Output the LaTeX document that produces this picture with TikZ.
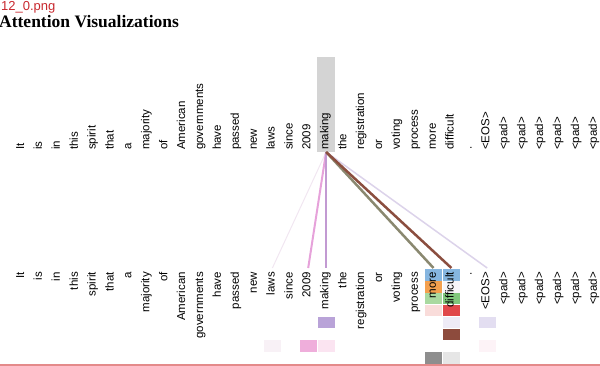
\documentclass[tikz,border=0pt]{standalone}
\usepackage{fontspec}
\setmainfont{Liberation Serif}
\setsansfont{Liberation Sans}
\usepackage{tikz}
\usetikzlibrary{positioning, backgrounds}
\definecolor{fileRed}{HTML}{C8282E}
\definecolor{edgeRed}{HTML}{E48A8A}
\definecolor{hlGray}{HTML}{D4D4D4}
\definecolor{cBlue}{HTML}{86B6E0}
\definecolor{cOrange}{HTML}{F4A04E}
\definecolor{cGreenL}{HTML}{A9D9A0}
\definecolor{cGreen}{HTML}{80C77C}
\definecolor{cPinkL}{HTML}{F9DCDA}
\definecolor{cRed}{HTML}{E0474A}
\definecolor{cLav}{HTML}{E3DEF1}
\definecolor{cLavL}{HTML}{EEEBF6}
\definecolor{cPurple}{HTML}{B9A3D8}
\definecolor{cBrown}{HTML}{8D4B3D}
\definecolor{cPink}{HTML}{EFAEDB}
\definecolor{cPinkF}{HTML}{FBE4F1}
\definecolor{cPinkX}{HTML}{FDF3F7}
\definecolor{cFaint}{HTML}{F8F1F6}
\definecolor{cGrey}{HTML}{8E8E8E}
\definecolor{cGreyL}{HTML}{E6E6E6}
\definecolor{cWhite}{HTML}{F7F5F9}
\definecolor{lPink}{HTML}{E6A2DA}
\definecolor{lPurple}{HTML}{C29AD2}
\definecolor{lOlive}{HTML}{8A8870}
\definecolor{lBrown}{HTML}{8B4E3F}
\definecolor{lLav}{HTML}{DCD3EA}
\definecolor{lFaint}{HTML}{F1E6F1}

\begin{document}
\begin{tikzpicture}[x=1pt, y=-1pt,
  tword/.style={rotate=90, anchor=mid west, inner sep=0pt, font=\sffamily\fontsize{11.5}{12}\selectfont},
  bword/.style={rotate=90, anchor=mid east, inner sep=0pt, font=\sffamily\fontsize{11.5}{12}\selectfont},
  hlbox/.style={fill=hlGray, minimum width=18pt, minimum height=95pt, inner sep=0pt},
  cell/.style={minimum width=17pt, minimum height=11.5pt, inner sep=0pt, anchor=north},
  attn/.style={line width=2pt},
]
\useasboundingbox (0,0) rectangle (600,366);
% --- header ---
\node[anchor=base west, inner sep=0pt, text=fileRed, font=\sffamily\fontsize{13}{14}\selectfont] (fname) at (1,11) {12\_0.png};
\node[anchor=base west, inner sep=0pt, font=\bfseries\fontsize{17.5}{19}\selectfont] (title) at (-1,28) {Attention Visualizations};
% --- attention cells ---
\foreach \c/\r/\col in {23/0/cBlue, 24/0/cBlue, 23/1/cOrange, 24/1/cWhite, 23/2/cGreenL, 24/2/cGreen,
    23/3/cPinkL, 24/3/cRed, 17/4/cPurple, 24/4/cLavL, 26/4/cLav, 24/5/cBrown,
    14/6/cFaint, 16/6/cPink, 17/6/cPinkF, 26/6/cPinkX, 23/7/cGrey, 24/7/cGreyL}
  \node[cell, fill=\col] (c\c-\r) at ({21.8+17.9*\c},{269+11.86*\r}) {};
% --- top sentence ---
\foreach \w [count=\i from 0] in {It,is,in,this,spirit,that,a,majority,of,American,governments,have,passed,new,laws,since,2009,making,the,registration,or,voting,process,more,difficult,.,<EOS>,<pad>,<pad>,<pad>,<pad>,<pad>,<pad>}
  \node[tword] (t\i) at ({21.8+17.9*\i},150) {\w};
% --- bottom sentence ---
\foreach \w [count=\i from 0] in {It,is,in,this,spirit,that,a,majority,of,American,governments,have,passed,new,laws,since,2009,making,the,registration,or,voting,process,more,difficult,.,<EOS>,<pad>,<pad>,<pad>,<pad>,<pad>,<pad>}
  \node[bword] (b\i) at ({21.8+17.9*\i},272) {\w};
\begin{scope}[on background layer]
  \node[hlbox, anchor=south] (hl) at ([yshift=-2pt]t17.mid west) {};
\end{scope}
% --- attention from "making" ---
\draw[attn, line width=1pt, lFaint] (hl.south) -- ([yshift=4pt]b14.mid east);
\draw[attn, line width=1.5pt, lLav] (hl.south) -- ([yshift=4pt]b26.mid east);
\draw[attn, lPink] (hl.south) -- ([yshift=4pt]b16.mid east);
\draw[attn, lPurple] (hl.south) -- ([yshift=4pt]b17.mid east);
\draw[attn, line width=2.5pt, lOlive] (hl.south) -- ([yshift=4pt]b23.mid east);
\draw[attn, line width=2.5pt, lBrown] (hl.south) -- ([yshift=4pt]b24.mid east);
% --- frame edge ---
\draw[edgeRed, line width=1.2pt] (0,365) -- (600,365);
\end{tikzpicture}
\end{document}
